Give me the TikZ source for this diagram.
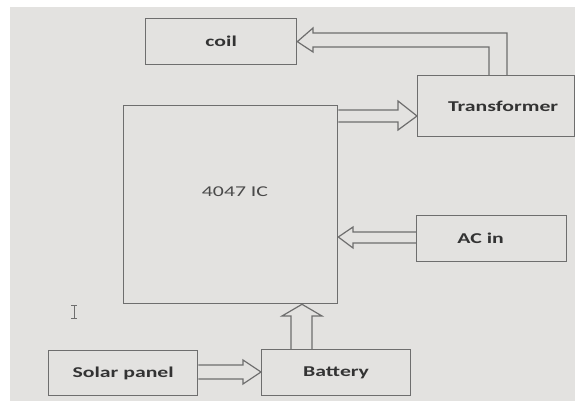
\documentclass[tikz,border=0pt]{standalone}
\usepackage{fontspec}
\newfontfamily\calib[FakeStretch=1.45]{Carlito}
\usetikzlibrary{calc}
\definecolor{bg}{HTML}{E3E2E0}
\definecolor{ln}{HTML}{6E6E6E}
\definecolor{tx}{HTML}{333333}
\definecolor{tx2}{HTML}{4A4A4A}
\tikzset{
  blk/.style={draw=ln, line width=1.3pt, fill=none, inner sep=0pt, anchor=north west,
    font=\calib\bfseries\fontsize{15}{18}\selectfont, text=tx},
  arr/.style={draw=ln, line width=1.2pt, line join=miter},
}
\begin{document}
\begin{tikzpicture}[x=1pt,y=-1pt]
\useasboundingbox (0,0) rectangle (575,401);
\fill[white] (0,0) rectangle (575,401);
\fill[bg] (10,7) rectangle (575,401);
% boxes
\node[blk, minimum width=151pt, minimum height=46pt] (coil) at (145,18) {coil};
\node[blk, minimum width=157pt, minimum height=61pt] (tr) at (417,75) {\hspace*{14pt}Transformer};
\node[blk, minimum width=214pt, minimum height=198pt] (ic) at (123,105) {};
\node[font=\calib\fontsize{15}{18}\selectfont, text=tx2, inner sep=0pt] (ictext) at (235,192) {4047 IC};
\node[blk, minimum width=150pt, minimum height=46pt] (ac) at (416,215) {AC in\hspace*{22pt}};
\node[blk, minimum width=149pt, minimum height=45pt] (sol) at (48,350) {Solar panel};
\node[blk, minimum width=149pt, minimum height=46pt] (bat) at (261,349) {Battery};
% transformer -> coil
\draw[arr] ($(tr.north west)+(90,0)$) |- (313,33) -- (313,28) -- (coil.east) -- (313,52) -- (313,47) -| ($(tr.north west)+(72,0)$);
% ic -> transformer
\draw[arr] ($(ic.north east)+(0,5)$) -- (398,110) -- (398,101) -- ($(tr.north west)+(0,41)$) -- (398,130) -- (398,122) -- ($(ic.north east)+(0,17)$);
% ac -> ic
\draw[arr] ($(ac.north west)+(0,17)$) -- (353,232) -- (353,227) -- ($(ic.north east)+(0,132)$) -- (353,248) -- (353,243) -- ($(ac.north west)+(0,28)$);
% battery -> ic
\draw[arr] ($(bat.north west)+(30,0)$) -- (291,316) -- (282,316) -- ($(ic.south west)+(179,0)$) -- (322,316) -- (312,316) -- ($(bat.north west)+(51,0)$);
% solar -> battery
\draw[arr] ($(sol.north east)+(0,15)$) -- (243,365) -- (243,360) -- ($(bat.north west)+(0,23)$) -- (243,384) -- (243,379) -- ($(sol.north east)+(0,29)$);
% text cursor
\draw[ln, line width=0.9pt] (71,305) -- (77,305) (74,305) -- (74,318) (71,318) -- (77,318);
\end{tikzpicture}
\end{document}
